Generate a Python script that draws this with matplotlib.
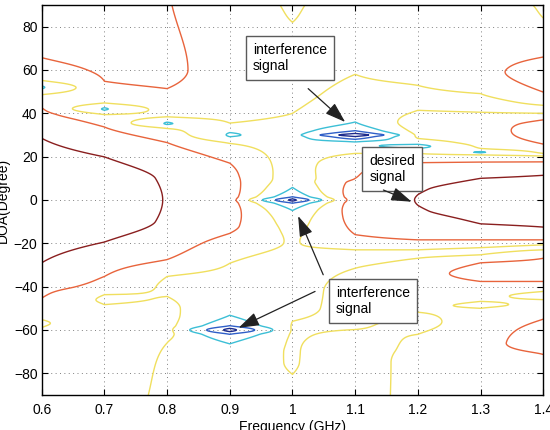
import numpy as np
import matplotlib
matplotlib.use('Agg')
import matplotlib.pyplot as plt

plt.rcParams['font.family'] = ['Liberation Sans', 'DejaVu Sans']

# frequency columns (GHz)
freq = [0.6, 0.7, 0.8, 0.9, 1.0, 1.1, 1.2, 1.3, 1.4]

# beam pattern (dB) read per frequency column: DOA knots and gain at the knots
doa_06 = [-90, -59, -57, -55.2, -50, -45.3, -29, 0, 28.5, 42.6, 48.6, 52, 55.2, 60, 65.7, 90]
gain_06 = [-14, -20, -21, -20, -13, -10, 0, 6, 0, -10, -20, -31, -20, -13, -10, -6]

doa_07 = [-90, -60, -48.3, -46, -43.7, -40, -35.3, -19.4, -10, 0, 10, 19.9, 33.7, 37, 39.4, 42, 44.8, 50, 54.8, 90]
gain_07 = [-13, -13, -20, -21.5, -20, -13, -10, 0, 3.5, 4, 3.5, 0, -10, -14, -20, -31, -20, -12, -10, -5]

doa_08 = [-90, -66, -60, -50, -44.5, -40, -35.3, -27.5, -20, -10, 0, 10, 20, 26.5, 30, 33, 35.3, 38.4, 42, 51.4, 60, 90]
gain_08 = [-23, -20, -16.7, -18, -20, -21.5, -20, -10, -5, -0.8, -0.3, -0.8, -5, -10, -14, -20, -31, -20, -15.3, -10, -8, -9.5]

doa_09 = [-90, -70, -66.4, -62, -60, -58, -53.2, -45, -29.2, -20, -15.4, -12, 0, 12, 17, 26.1, 30, 35.5, 45, 60, 90]
gain_09 = [-25, -27, -30, -40, -53.7, -40, -30, -25, -20, -14, -10, -7.5, -5.2, -7.5, -10, -20, -31, -20, -14, -14, -16]

doa_10 = [-90, -80.5, -75, -65, -60, -56, -50, -40, -30, -20, -10, -4.9, -1.5, 0, 1.5, 5.8, 10, 20, 30, 40, 50, 60, 75, 82, 90]
gain_10 = [-24, -20, -19, -18.8, -19.2, -20, -24, -26, -25, -21, -25, -30, -40, -53, -40, -30, -26, -25, -25.4, -20, -17, -16, -17, -20, -21]

doa_11 = [-90, -75, -70, -59.8, -50, -42, -31.5, -27, -23, -20, -16, -8, 0, 8, 10, 14, 17, 21.5, 24.8, 26.8, 28, 29.3, 30, 30.7, 32, 36, 45, 58, 75, 90]
gain_11 = [-26.4, -28, -28, -20, -15, -14, -20, -23, -20, -13, -10, -6, -3.5, -7, -10, -10.8, -12.5, -20, -28, -30, -40, -50, -58.7, -50, -40, -30, -25, -20, -15, -16]

doa_12 = [-90, -75, -62, -57, -51.8, -45, -35, -26.9, -25, -23, -18.4, -10, -5, 0, 5, 10, 14, 17.2, 21.5, 23, 24.8, 26.5, 28.4, 30, 35, 41.4, 45, 52.9, 60, 75, 90]
gain_12 = [-15, -14, -20, -23, -20, -15, -12.6, -20, -22, -20, -10, -3.5, -0.5, 0.2, -0.5, -3.5, -7, -10, -20, -26, -33, -26, -20, -18, -15, -20, -22, -20, -15, -13, -14]

doa_13 = [-90, -70, -60, -50, -48.5, -46.8, -42, -37.6, -33, -29, -25.3, -23.6, -22, -18.4, -11, -5, 0, 5, 10, 17.5, 20.8, 22, 23.8, 30, 35, 40.5, 45, 49.1, 60, 75, 90]
gain_13 = [-14, -13, -14, -20, -22, -20, -14, -10, -7, -10, -20, -22, -20, -10, 0, 2.5, 3, 2.5, 0, -10, -20, -31, -20, -14, -13, -20, -23, -20, -13, -14, -17]

doa_14 = [-90, -71.3, -66, -55, -50, -46, -44, -42.2, -37.6, -33, -26.9, -23, -21.8, -20.7, -18.4, -12.5, 0, 11.4, 17.6, 20.3, 21, 21.5, 25.8, 31, 37, 40, 42, 43.7, 49.8, 58, 66, 75, 84, 90]
gain_14 = [-13, -10, -5.4, -10, -16, -20, -24, -20, -10, -6, -10, -20, -22, -20, -10, 0, 4, 0, -10, -20, -22, -20, -10, -6.3, -10, -20, -22, -20, -10, -5, -10, -15, -20, -20.6]

doa_knots = [doa_06, doa_07, doa_08, doa_09, doa_10, doa_11, doa_12, doa_13, doa_14]
gain_knots = [gain_06, gain_07, gain_08, gain_09, gain_10, gain_11, gain_12, gain_13, gain_14]

levels = [-50, -40, -30, -20, -10, 0]
level_colors = ['#1c2a8c', '#2f5fc8', '#3cbfd6', '#f0df5e', '#e8643c', '#8a1f1f']


def pchip(x, xk, yk):
    # monotone cubic through the knots (keeps level crossings at the knots)
    xk = np.asarray(xk, float)
    yk = np.asarray(yk, float)
    h = np.diff(xk)
    delta = np.diff(yk) / h
    d = np.zeros_like(yk)
    for k in range(1, len(xk) - 1):
        if delta[k - 1] * delta[k] > 0:
            w1 = 2 * h[k] + h[k - 1]
            w2 = h[k] + 2 * h[k - 1]
            d[k] = (w1 + w2) / (w1 / delta[k - 1] + w2 / delta[k])
    d[0] = delta[0]
    d[-1] = delta[-1]
    i = np.clip(np.searchsorted(xk, x) - 1, 0, len(xk) - 2)
    t = (x - xk[i]) / h[i]
    h00 = 2 * t**3 - 3 * t**2 + 1
    h10 = t**3 - 2 * t**2 + t
    h01 = -2 * t**3 + 3 * t**2
    h11 = t**3 - t**2
    return h00 * yk[i] + h10 * h[i] * d[i] + h01 * yk[i + 1] + h11 * h[i] * d[i + 1]


# grid table for contour
doa = np.arange(-90, 90.001, 0.25)
Z = np.column_stack([pchip(doa, d, g) for d, g in zip(doa_knots, gain_knots)])
F, D = np.meshgrid(freq, doa)

fig = plt.figure(figsize=(5.5, 4.3), dpi=100)
ax = fig.add_axes([0.0758, 0.0814, 0.912, 0.907])

ax.contour(F, D, Z, levels=levels, colors=level_colors, linewidths=1.0)

ax.set_xlim(0.6, 1.4)
ax.set_ylim(-90, 90)
ax.set_xticks([0.6, 0.7, 0.8, 0.9, 1.0, 1.1, 1.2, 1.3, 1.4])
ax.set_xticklabels(['0.6', '0.7', '0.8', '0.9', '1', '1.1', '1.2', '1.3', '1.4'])
ax.set_yticks(np.arange(-80, 81, 20))
ax.grid(True, color='#808080', linestyle=(0, (1, 3.5)), linewidth=0.7)
ax.tick_params(direction='in', top=True, right=True, length=4, labelsize=10)
ax.tick_params(axis='x', pad=6)
ax.tick_params(axis='y', pad=3)
for s in ax.spines.values():
    s.set_linewidth(1.0)
ax.set_xlabel('Frequency (GHz)', fontsize=10, labelpad=2)
ax.set_ylabel('DOA(Degree)', fontsize=10, labelpad=3)

# text boxes
box = dict(boxstyle='square,pad=0.5', fc='white', ec='#5a5a5a', lw=1.0)
ax.text(0.937, 65.6, 'interference\nsignal', ha='left', va='center', fontsize=10,
        linespacing=1.2, bbox=box)
ax.text(1.1225, 14.4, 'desired\nsignal', ha='left', va='center', fontsize=10,
        linespacing=1.2, bbox=box)
ax.text(1.0694, -46.8, 'interference\nsignal', ha='left', va='center', fontsize=10,
        linespacing=1.2, bbox=box)

arrows = [((1.025, 51.4), (1.084, 36.0)),
          ((1.145, 4.6), (1.190, -0.8)),
          ((1.049, -34.5), (1.009, -7.4)),
          ((1.036, -42.2), (0.914, -59.0))]
for tail, head in arrows:
    ax.annotate('', xy=head, xytext=tail,
                arrowprops=dict(arrowstyle='-|>,head_length=0.9,head_width=0.3',
                                color='#222222', lw=0.9, mutation_scale=14,
                                shrinkA=0, shrinkB=0))

fig.savefig('out.png', dpi=100)
